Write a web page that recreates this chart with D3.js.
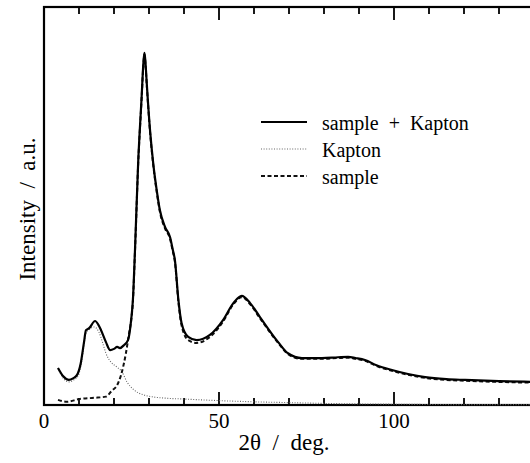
<!DOCTYPE html>
<html>
<head>
<meta charset="utf-8">
<script src="https://cdn.jsdelivr.net/npm/d3@7"></script>
<style>
  html, body { margin: 0; padding: 0; background: #fff; }
  svg { display: block; }
  svg text { font-family: "Liberation Serif", "DejaVu Serif", serif !important; }
</style>
</head>
<body>
<svg id="chart" width="530" height="463"></svg>
<script>
// ---- data (2θ in degrees, intensity in arbitrary units) ----
const totalData = [[4,9.3],[5.5,7.2],[7.1,6.3],[8.3,6.7],[9.4,7.5],[10.5,10.5],[11.4,15.6],[12,18.8],[12.9,19.3],[14.6,21.1],[15.5,20.2],[16.3,18.8],[17.7,15.8],[18.9,13.8],[20,14.1],[20.9,14.6],[21.7,14.3],[22.9,15.1],[24,16.3],[24.9,21.4],[25.4,26.4],[26,39],[26.9,60.8],[27.9,77.5],[28.4,86],[28.7,88.5],[29.0,86],[29.3,81.7],[30.3,69],[31.2,60.8],[32.2,54],[33.1,49],[34.6,44.7],[36,42.2],[36.8,39],[37.4,36.4],[38.4,26.4],[39.3,20.6],[41.2,17.1],[43.6,16.3],[47.4,17.6],[51.2,21.4],[54.1,25.6],[56.5,27.4],[58.9,25.6],[61.7,22.1],[66.9,15.8],[69.7,13],[73.7,11.8],[79.4,11.8],[84,12],[86.9,12.1],[89,11.8],[91.7,11.3],[95,10],[99.4,8.8],[104,7.8],[108.9,7.0],[115,6.5],[120.3,6.3],[130,6],[140,5.8],[146,5.7]];
const sampleData = [[4,1.3],[6.6,0.8],[10,1.5],[14.3,1.8],[17.7,2.1],[19.4,3.6],[20.9,5],[22,7.5],[23.4,13],[24.3,18],[24.9,21.2],[25.4,26],[26,38.6],[26.9,60.4],[27.9,77.1],[28.4,85.6],[28.7,88.1],[29.0,85.6],[29.3,81.3],[30.3,68.6],[31.2,60.4],[32.2,53.6],[33.1,48.6],[34.6,44.3],[36,41.8],[36.8,38.6],[37.4,36],[38.4,25.9],[39.3,20],[41.2,16.3],[43.6,15.6],[47.4,17.1],[51.2,21],[54.1,25.3],[56.5,27.1],[58.9,25.3],[61.7,21.8],[66.9,15.6],[69.7,12.8],[73.7,11.6],[79.4,11.6],[84,11.8],[86.9,11.9],[89,11.6],[91.7,11.1],[95,9.8],[99.4,8.6],[104,7.6],[108.9,6.8],[115,6.3],[120.3,6.1],[130,5.8],[140,5.6],[146,5.5]];
const kaptonData = [[4,9.3],[5.5,6.7],[7.1,5.8],[8.5,6.3],[9.8,7.4],[10.8,11],[12,18],[13,19],[14.3,19.6],[15.7,18.3],[16.8,15.5],[17.7,13],[19.1,10.8],[20.9,9.5],[22.3,8.3],[23.7,5.8],[25.7,3.8],[28.6,2.5],[31.4,2],[35,1.7],[40,1.5],[50,1.1],[60,0.8],[70,0.6],[80,0.4],[100,0.2],[120,0.1],[146,0.1]];
const majorTicks = [0, 50, 100];
const minorTicks = [10, 20, 30, 40, 60, 70, 80, 90, 110, 120, 130, 140];
const legendLabels = ["sample\u00a0\u00a0+\u00a0\u00a0Kapton", "Kapton", "sample"];
const xTitle = "2θ\u00a0\u00a0/\u00a0\u00a0deg.";
const yTitle = "Intensity\u00a0\u00a0/\u00a0\u00a0a.u.";

// ---- layout ----
const svg = d3.select("#chart");
const plotLeft = 44, plotTop = 7, plotBottom = 405, plotRight = 530;
const x = d3.scaleLinear().domain([0, 146]).range([plotLeft, plotLeft + 146 * 3.5]);
const y = d3.scaleLinear().domain([0, 100]).range([plotBottom, plotBottom - 398]);

// frame: left, top and bottom edges (the right edge runs off the picture)
svg.append("rect").attr("x", plotLeft).attr("y", plotTop)
  .attr("width", 560 - plotLeft).attr("height", plotBottom - plotTop)
  .attr("fill", "none").attr("stroke", "black").attr("stroke-width", 2.2);

// ticks on bottom and top edges, pointing inward
const tickData = majorTicks.map(v => ({v, len: 13})).concat(minorTicks.map(v => ({v, len: 7})));
const tickG = svg.append("g");
tickG.selectAll("line.bt").data(tickData).join("line").attr("class", "bt")
  .attr("x1", d => x(d.v)).attr("x2", d => x(d.v))
  .attr("y1", plotBottom).attr("y2", d => plotBottom - d.len)
  .attr("stroke", "black").attr("stroke-width", 1.8);
tickG.selectAll("line.tp").data(tickData).join("line").attr("class", "tp")
  .attr("x1", d => x(d.v)).attr("x2", d => x(d.v))
  .attr("y1", plotTop).attr("y2", d => plotTop + d.len)
  .attr("stroke", "black").attr("stroke-width", 1.8);

// tick labels
svg.selectAll("text.tl").data(majorTicks).join("text").attr("class", "tl")
  .attr("x", d => x(d)).attr("y", 428).attr("text-anchor", "middle")
  .attr("font-family", "Liberation Serif").attr("font-size", 21).attr("fill", "black")
  .text(d => d3.format("d")(d));

// curves
const line = d3.line().x(d => x(d[0])).y(d => y(d[1])).curve(d3.curveMonotoneX);
const plot = svg.append("g");
plot.append("path").datum(kaptonData).attr("d", line)
  .attr("fill", "none").attr("stroke", "#666").attr("stroke-width", 1.1).attr("stroke-dasharray", "1,1.6");
plot.append("path").datum(sampleData).attr("d", line)
  .attr("fill", "none").attr("stroke", "#111").attr("stroke-width", 2).attr("stroke-dasharray", "4,2.5");
plot.append("path").datum(totalData).attr("d", line)
  .attr("fill", "none").attr("stroke", "black").attr("stroke-width", 2.2);

// titles
svg.append("text").attr("x", 284).attr("y", 450).attr("text-anchor", "middle")
  .attr("font-family", "Liberation Serif").attr("font-size", 23).attr("fill", "black")
  .text(xTitle);
svg.append("text").attr("transform", "translate(35,209) rotate(-90)").attr("text-anchor", "middle")
  .attr("font-family", "Liberation Serif").attr("font-size", 23).attr("fill", "black")
  .text(yTitle);

// legend
const legendStyles = [
  {stroke: "black", width: 2.2, dash: null},
  {stroke: "#666", width: 1.1, dash: "1,1.6"},
  {stroke: "#111", width: 2, dash: "4,2.5"}
];
legendLabels.forEach((lab, i) => {
  const yy = 122 + i * 27;
  const s = legendStyles[i];
  svg.append("line").attr("x1", 261).attr("x2", 307).attr("y1", yy).attr("y2", yy)
    .attr("stroke", s.stroke).attr("stroke-width", s.width).attr("stroke-dasharray", s.dash);
  svg.append("text").attr("x", 322).attr("y", yy + 8)
    .attr("font-family", "Liberation Serif").attr("font-size", 20).attr("fill", "black")
    .text(lab);
});
</script>
</body>
</html>
